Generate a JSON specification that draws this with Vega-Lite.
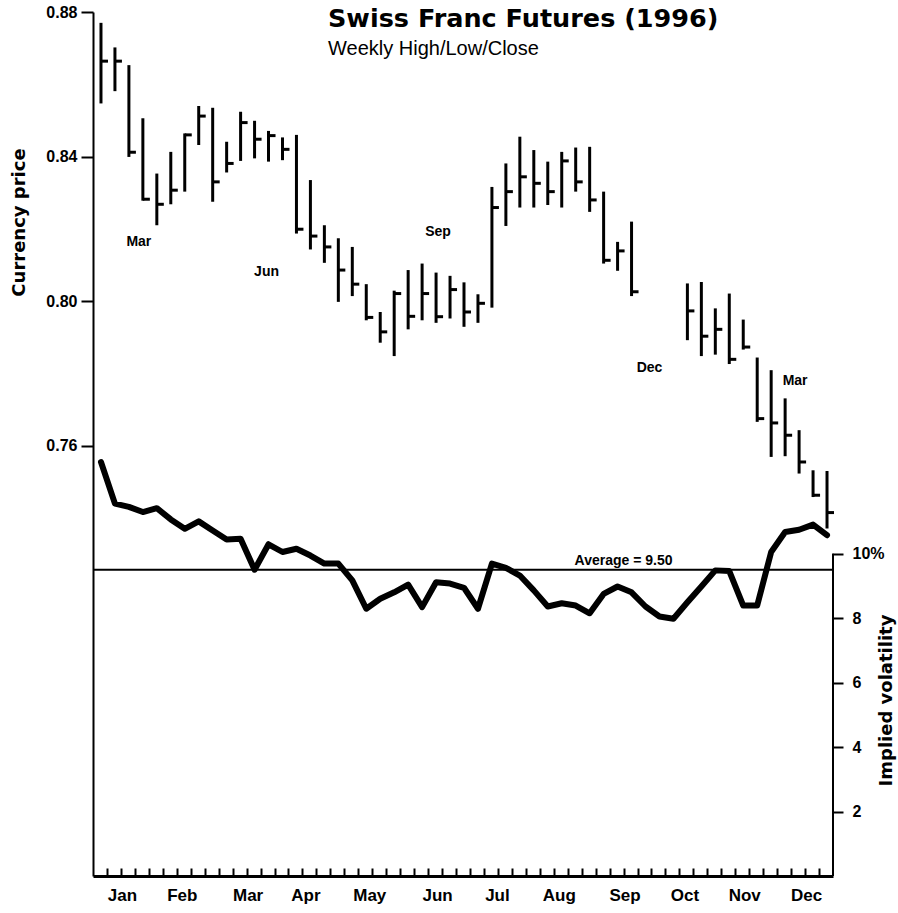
{
  "$schema": "https://vega.github.io/schema/vega-lite/v6.json",
  "width": 740,
  "height": 864,
  "autosize": {"type": "none"},
  "padding": {"left": 93, "top": 12, "right": 65, "bottom": 37},
  "background": "white",
  "config": {
    "view": {"stroke": null},
    "axis": {"grid": false, "domainColor": "black", "tickColor": "black", "labelColor": "black", "titleColor": "black"}
  },
  "title": {
    "text": "Swiss Franc Futures (1996)",
    "subtitle": "Weekly High/Low/Close",
    "anchor": "start",
    "frame": "group",
    "dx": 235,
    "offset": -55,
    "font": "DejaVu Sans",
    "fontSize": 25.5,
    "fontWeight": "bold",
    "color": "black",
    "subtitleFont": "Liberation Sans",
    "subtitleFontSize": 20,
    "subtitleColor": "black",
    "subtitlePadding": 7
  },
  "datasets": {
    "weekly": [
      {"date":"1996-01-05","high":0.8770,"low":0.8547,"close":0.8664,"vol":12.84},
      {"date":"1996-01-12","high":0.8702,"low":0.8581,"close":0.8664,"vol":11.55},
      {"date":"1996-01-19","high":0.8653,"low":0.8399,"close":0.8412,"vol":11.45},
      {"date":"1996-01-26","high":0.8506,"low":0.8278,"close":0.8282,"vol":11.29},
      {"date":"1996-02-02","high":0.8353,"low":0.8210,"close":0.8268,"vol":11.41},
      {"date":"1996-02-09","high":0.8413,"low":0.8268,"close":0.8307,"vol":11.06},
      {"date":"1996-02-16","high":0.8464,"low":0.8303,"close":0.8460,"vol":10.77},
      {"date":"1996-02-23","high":0.8540,"low":0.8432,"close":0.8512,"vol":11.00},
      {"date":"1996-03-01","high":0.8535,"low":0.8275,"close":0.8330,"vol":10.72},
      {"date":"1996-03-08","high":0.8441,"low":0.8356,"close":0.8381,"vol":10.44},
      {"date":"1996-03-15","high":0.8524,"low":0.8388,"close":0.8494,"vol":10.46},
      {"date":"1996-03-22","high":0.8499,"low":0.8395,"close":0.8448,"vol":9.50},
      {"date":"1996-03-29","high":0.8471,"low":0.8386,"close":0.8458,"vol":10.29},
      {"date":"1996-04-05","high":0.8453,"low":0.8390,"close":0.8420,"vol":10.05},
      {"date":"1996-04-12","high":0.8460,"low":0.8187,"close":0.8199,"vol":10.15},
      {"date":"1996-04-19","high":0.8335,"low":0.8143,"close":0.8180,"vol":9.94},
      {"date":"1996-04-26","high":0.8210,"low":0.8106,"close":0.8150,"vol":9.69},
      {"date":"1996-05-03","high":0.8174,"low":0.7998,"close":0.8086,"vol":9.69},
      {"date":"1996-05-10","high":0.8150,"low":0.8014,"close":0.8047,"vol":9.17},
      {"date":"1996-05-17","high":0.8047,"low":0.7947,"close":0.7955,"vol":8.29},
      {"date":"1996-05-24","high":0.7970,"low":0.7885,"close":0.7915,"vol":8.60},
      {"date":"1996-05-31","high":0.8029,"low":0.7848,"close":0.8021,"vol":8.80},
      {"date":"1996-06-07","high":0.8086,"low":0.7922,"close":0.7958,"vol":9.04},
      {"date":"1996-06-14","high":0.8104,"low":0.7947,"close":0.8021,"vol":8.34},
      {"date":"1996-06-21","high":0.8079,"low":0.7940,"close":0.7957,"vol":9.11},
      {"date":"1996-06-28","high":0.8070,"low":0.7952,"close":0.8032,"vol":9.07},
      {"date":"1996-07-05","high":0.8052,"low":0.7929,"close":0.7970,"vol":8.94},
      {"date":"1996-07-12","high":0.8019,"low":0.7940,"close":0.7994,"vol":8.29},
      {"date":"1996-07-19","high":0.8316,"low":0.7982,"close":0.8259,"vol":9.69},
      {"date":"1996-07-26","high":0.8381,"low":0.8208,"close":0.8303,"vol":9.56},
      {"date":"1996-08-02","high":0.8455,"low":0.8259,"close":0.8344,"vol":9.32},
      {"date":"1996-08-09","high":0.8418,"low":0.8259,"close":0.8326,"vol":8.86},
      {"date":"1996-08-16","high":0.8386,"low":0.8266,"close":0.8303,"vol":8.36},
      {"date":"1996-08-23","high":0.8413,"low":0.8259,"close":0.8388,"vol":8.46},
      {"date":"1996-08-30","high":0.8425,"low":0.8303,"close":0.8330,"vol":8.39},
      {"date":"1996-09-06","high":0.8427,"low":0.8247,"close":0.8280,"vol":8.15},
      {"date":"1996-09-13","high":0.8303,"low":0.8104,"close":0.8113,"vol":8.75},
      {"date":"1996-09-20","high":0.8164,"low":0.8084,"close":0.8139,"vol":8.98},
      {"date":"1996-09-27","high":0.8220,"low":0.8014,"close":0.8026,"vol":8.80},
      {"date":"1996-10-04","vol":8.36},
      {"date":"1996-10-11","vol":8.05},
      {"date":"1996-10-18","vol":7.98},
      {"date":"1996-10-25","high":0.8049,"low":0.7892,"close":0.7973,"vol":8.49},
      {"date":"1996-11-01","high":0.8053,"low":0.7848,"close":0.7903,"vol":8.98},
      {"date":"1996-11-08","high":0.7980,"low":0.7852,"close":0.7922,"vol":9.48},
      {"date":"1996-11-15","high":0.8021,"low":0.7826,"close":0.7839,"vol":9.46},
      {"date":"1996-11-22","high":0.7949,"low":0.7866,"close":0.7873,"vol":8.39},
      {"date":"1996-11-29","high":0.7844,"low":0.7666,"close":0.7675,"vol":8.39},
      {"date":"1996-12-06","high":0.7809,"low":0.7569,"close":0.7663,"vol":10.05},
      {"date":"1996-12-13","high":0.7731,"low":0.7571,"close":0.7629,"vol":10.67},
      {"date":"1996-12-20","high":0.7643,"low":0.7523,"close":0.7555,"vol":10.74},
      {"date":"1996-12-27","high":0.7532,"low":0.7458,"close":0.7463,"vol":10.90},
      {"date":"1997-01-03","high":0.7530,"low":0.7371,"close":0.7415,"vol":10.57}
    ],
    "contracts": [
      {"date":"1996-01-24","price":0.8164,"label":"Mar"},
      {"date":"1996-03-28","price":0.8081,"label":"Jun"},
      {"date":"1996-06-22","price":0.8190,"label":"Sep"},
      {"date":"1996-10-06","price":0.7814,"label":"Dec"},
      {"date":"1996-12-18","price":0.7780,"label":"Mar"}
    ],
    "average": [{"avg": 9.5, "text": "Average = 9.50", "date": "1996-09-23"}]
  },
  "layer": [
    {
      "layer": [
        {
          "data": {"name": "weekly"},
          "mark": {"type": "rule", "strokeWidth": 3, "color": "black"},
          "encoding": {
            "x": {
              "field": "date", "type": "temporal",
              "scale": {"type": "utc", "domain": [{"year":1996,"month":1,"date":1,"utc":true},{"year":1997,"month":1,"date":6,"utc":true}]},
              "axis": {
                "title": null,
                "tickCount": 200,
                "values": [
                  {"year":1996,"month":1,"date":8,"utc":true},{"year":1996,"month":1,"date":15,"utc":true},{"year":1996,"month":1,"date":22,"utc":true},{"year":1996,"month":1,"date":29,"utc":true},
                  {"year":1996,"month":2,"date":5,"utc":true},{"year":1996,"month":2,"date":12,"utc":true},{"year":1996,"month":2,"date":19,"utc":true},{"year":1996,"month":2,"date":26,"utc":true},
                  {"year":1996,"month":3,"date":4,"utc":true},{"year":1996,"month":3,"date":11,"utc":true},{"year":1996,"month":3,"date":18,"utc":true},{"year":1996,"month":3,"date":25,"utc":true},
                  {"year":1996,"month":4,"date":1,"utc":true},{"year":1996,"month":4,"date":8,"utc":true},{"year":1996,"month":4,"date":15,"utc":true},{"year":1996,"month":4,"date":22,"utc":true},{"year":1996,"month":4,"date":29,"utc":true},
                  {"year":1996,"month":5,"date":6,"utc":true},{"year":1996,"month":5,"date":13,"utc":true},{"year":1996,"month":5,"date":20,"utc":true},{"year":1996,"month":5,"date":27,"utc":true},
                  {"year":1996,"month":6,"date":3,"utc":true},{"year":1996,"month":6,"date":10,"utc":true},{"year":1996,"month":6,"date":17,"utc":true},{"year":1996,"month":6,"date":24,"utc":true},
                  {"year":1996,"month":7,"date":1,"utc":true},{"year":1996,"month":7,"date":8,"utc":true},{"year":1996,"month":7,"date":15,"utc":true},{"year":1996,"month":7,"date":22,"utc":true},{"year":1996,"month":7,"date":29,"utc":true},
                  {"year":1996,"month":8,"date":5,"utc":true},{"year":1996,"month":8,"date":12,"utc":true},{"year":1996,"month":8,"date":19,"utc":true},{"year":1996,"month":8,"date":26,"utc":true},
                  {"year":1996,"month":9,"date":2,"utc":true},{"year":1996,"month":9,"date":9,"utc":true},{"year":1996,"month":9,"date":16,"utc":true},{"year":1996,"month":9,"date":23,"utc":true},{"year":1996,"month":9,"date":30,"utc":true},
                  {"year":1996,"month":10,"date":7,"utc":true},{"year":1996,"month":10,"date":14,"utc":true},{"year":1996,"month":10,"date":21,"utc":true},{"year":1996,"month":10,"date":28,"utc":true},
                  {"year":1996,"month":11,"date":4,"utc":true},{"year":1996,"month":11,"date":11,"utc":true},{"year":1996,"month":11,"date":18,"utc":true},{"year":1996,"month":11,"date":25,"utc":true},
                  {"year":1996,"month":12,"date":2,"utc":true},{"year":1996,"month":12,"date":9,"utc":true},{"year":1996,"month":12,"date":16,"utc":true},{"year":1996,"month":12,"date":23,"utc":true},{"year":1996,"month":12,"date":30,"utc":true},
                  {"year":1996,"month":1,"date":15,"hours":12,"utc":true},{"year":1996,"month":2,"date":14,"hours":12,"utc":true},{"year":1996,"month":3,"date":18,"hours":12,"utc":true},
                  {"year":1996,"month":4,"date":16,"hours":12,"utc":true},{"year":1996,"month":5,"date":18,"hours":12,"utc":true},{"year":1996,"month":6,"date":21,"hours":12,"utc":true},
                  {"year":1996,"month":7,"date":21,"hours":12,"utc":true},{"year":1996,"month":8,"date":21,"hours":12,"utc":true},{"year":1996,"month":9,"date":23,"hours":12,"utc":true},
                  {"year":1996,"month":10,"date":23,"hours":12,"utc":true},{"year":1996,"month":11,"date":22,"hours":12,"utc":true},{"year":1996,"month":12,"date":23,"hours":12,"utc":true}
                ],
                "labelExpr": "utchours(datum.value) == 12 ? utcFormat(datum.value, '%b') : ''",
                "tickOpacity": {"condition": {"test": "utchours(datum.value) == 12", "value": 0}, "value": 1},
                "tickSize": -8,
                "tickWidth": 2,
                "domainWidth": 3,
                "labelFont": "Liberation Sans",
                "labelFontWeight": "bold",
                "labelFontSize": 17,
                "labelPadding": 19,
                "labelBaseline": "top",
                "labelOverlap": false,
                "labelBound": false,
                "labelFlush": false
              }
            },
            "y": {
              "field": "high", "type": "quantitative",
              "scale": {"domain": [0.64095, 0.88], "nice": false, "zero": false},
              "axis": {
                "title": "Currency price",
                "values": [0.76, 0.80, 0.84, 0.88],
                "format": ".2f",
                "tickSize": 12,
                "tickWidth": 2,
                "domainWidth": 2,
                "labelFont": "Liberation Sans",
                "labelFontWeight": "bold",
                "labelFontSize": 16,
                "labelPadding": 4,
                "labelBound": false,
                "labelFlush": false,
                "titleFont": "DejaVu Sans",
                "titleFontWeight": "bold",
                "titleFontSize": 18,
                "titleAngle": 270,
                "titleAlign": "center",
                "titleBaseline": "middle",
                "titleX": -74,
                "titleY": 210
              }
            },
            "y2": {"field": "low"}
          }
        },
        {
          "data": {"name": "weekly"},
          "mark": {"type": "tick", "orient": "horizontal", "size": 7, "thickness": 3, "xOffset": 3.5, "color": "black", "opacity": 1},
          "encoding": {
            "x": {"field": "date", "type": "temporal", "scale": {"type": "utc", "domain": [{"year":1996,"month":1,"date":1,"utc":true},{"year":1997,"month":1,"date":6,"utc":true}]}},
            "y": {"field": "close", "type": "quantitative", "scale": {"domain": [0.64095, 0.88], "nice": false, "zero": false}}
          }
        },
        {
          "data": {"name": "contracts"},
          "mark": {"type": "text", "font": "Liberation Sans", "fontWeight": "bold", "fontSize": 14, "color": "black", "align": "center", "baseline": "middle"},
          "encoding": {
            "x": {"field": "date", "type": "temporal", "scale": {"type": "utc", "domain": [{"year":1996,"month":1,"date":1,"utc":true},{"year":1997,"month":1,"date":6,"utc":true}]}},
            "y": {"field": "price", "type": "quantitative", "scale": {"domain": [0.64095, 0.88], "nice": false, "zero": false}},
            "text": {"field": "label"}
          }
        }
      ]
    },
    {
      "layer": [
        {
          "data": {"name": "weekly"},
          "mark": {"type": "line", "strokeWidth": 6, "color": "black", "strokeJoin": "round", "strokeCap": "round"},
          "encoding": {
            "x": {"field": "date", "type": "temporal", "scale": {"type": "utc", "domain": [{"year":1996,"month":1,"date":1,"utc":true},{"year":1997,"month":1,"date":6,"utc":true}]}},
            "y": {
              "field": "vol", "type": "quantitative",
              "scale": {"domain": [0, 26.8], "nice": false, "zero": false},
              "axis": {
                "orient": "right",
                "title": "Implied volatility",
                "values": [2, 4, 6, 8, 10],
                "labelExpr": "datum.value == 10 ? '10%' : datum.label",
                "domain": false,
                "tickSize": 10,
                "tickWidth": 2,
                "labelFont": "Liberation Sans",
                "labelFontWeight": "bold",
                "labelFontSize": 16,
                "labelPadding": 9,
                "titleFont": "DejaVu Sans",
                "titleFontWeight": "bold",
                "titleFontSize": 18,
                "titleAngle": 270,
                "titleAlign": "center",
                "titleBaseline": "middle",
                "titleX": 53,
                "titleY": 688
              }
            }
          }
        },
        {
          "data": {"name": "average"},
          "mark": {"type": "rule", "strokeWidth": 2, "color": "black"},
          "encoding": {
            "y": {"field": "avg", "type": "quantitative", "scale": {"domain": [0, 26.8], "nice": false, "zero": false}}
          }
        },
        {
          "data": {"name": "average"},
          "mark": {"type": "text", "font": "Liberation Sans", "fontWeight": "bold", "fontSize": 14, "color": "black", "align": "center", "baseline": "alphabetic", "dy": -5},
          "encoding": {
            "x": {"field": "date", "type": "temporal", "scale": {"type": "utc", "domain": [{"year":1996,"month":1,"date":1,"utc":true},{"year":1997,"month":1,"date":6,"utc":true}]}},
            "y": {"field": "avg", "type": "quantitative", "scale": {"domain": [0, 26.8], "nice": false, "zero": false}},
            "text": {"field": "text"}
          }
        },
        {
          "data": {"values": [{"lo": 0, "hi": 10}]},
          "mark": {"type": "rule", "strokeWidth": 2, "color": "black"},
          "encoding": {
            "x": {"datum": {"year":1997,"month":1,"date":6,"utc":true}, "type": "temporal", "scale": {"type": "utc", "domain": [{"year":1996,"month":1,"date":1,"utc":true},{"year":1997,"month":1,"date":6,"utc":true}]}},
            "y": {"field": "lo", "type": "quantitative", "scale": {"domain": [0, 26.8], "nice": false, "zero": false}},
            "y2": {"field": "hi"}
          }
        }
      ]
    }
  ],
  "resolve": {"scale": {"y": "independent"}}
}
